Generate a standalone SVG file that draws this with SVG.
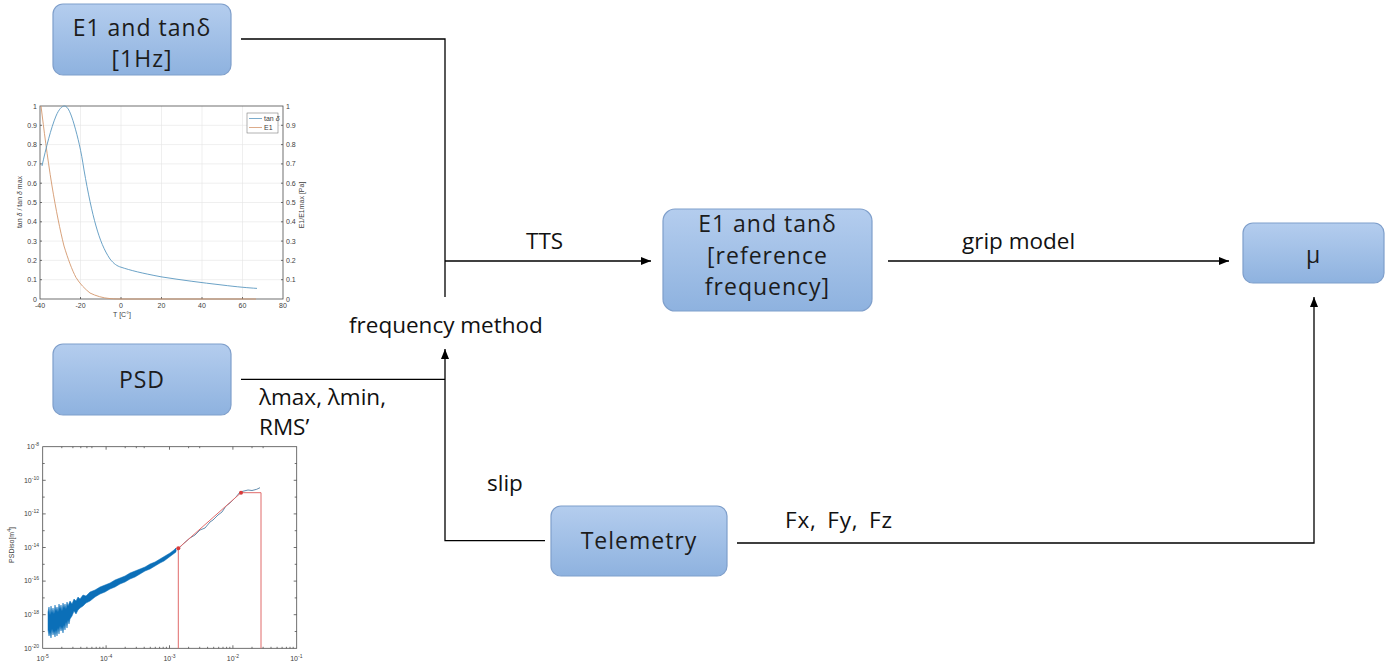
<svg xmlns="http://www.w3.org/2000/svg" width="1392" height="668" viewBox="0 0 1392 668">
  <style>
    .node rect { fill: url(#nodeFill); stroke: #7f9fcb; stroke-width: 1.2; }
    .node text { font-family: "Open Sans", "Noto Sans", sans-serif; font-size: 23px; letter-spacing: 1px; fill: #1c1c1c; text-anchor: middle; }
    .wire { fill: none; stroke: #000; stroke-width: 1.3; }
    .label { font-family: "Open Sans", "Noto Sans", sans-serif; font-size: 22.5px; fill: #111; }
    .tick { font-family: "Liberation Sans", Arial, sans-serif; font-size: 7px; fill: #404040; }
    .grid { stroke: #e4e4e4; stroke-width: 0.6; fill: none; }
    .axis { stroke: #4d4d4d; stroke-width: 0.8; fill: none; }
  </style>
  <defs>
    <linearGradient id="nodeFill" x1="0" y1="0" x2="0" y2="1">
      <stop offset="0" stop-color="#b4cdee"/>
      <stop offset="1" stop-color="#8eb2df"/>
    </linearGradient>
    <marker id="arrow" viewBox="0 0 10 8" refX="10" refY="4" markerWidth="10" markerHeight="8" markerUnits="userSpaceOnUse" orient="auto">
      <path d="M0,0 L10,4 L0,8 z" fill="#000"/>
    </marker>
  </defs>
  <rect width="1392" height="668" fill="#fff"/>

  <!-- tan delta / E1 vs temperature chart -->
  <g id="plot-tan-delta">
    <path class="grid" d="M80.5,106V299M121,106V299M161.5,106V299M202,106V299M242.5,106V299M40,279.7H283M40,260.4H283M40,241.1H283M40,221.8H283M40,202.5H283M40,183.2H283M40,163.9H283M40,144.6H283M40,125.3H283"/>
    <rect class="axis" x="40" y="106" width="243" height="193"/>
    <path class="axis" d="M40,279.7h2M40,260.4h2M40,241.1h2M40,221.8h2M40,202.5h2M40,183.2h2M40,163.9h2M40,144.6h2M40,125.3h2M283,279.7h-2M283,260.4h-2M283,241.1h-2M283,221.8h-2M283,202.5h-2M283,183.2h-2M283,163.9h-2M283,144.6h-2M283,125.3h-2M80.5,299v-2M121,299v-2M161.5,299v-2M202,299v-2M242.5,299v-2"/>
    <!-- E1 -->
    <path fill="none" stroke="#d4976d" stroke-width="0.9" d="M41,106 C44,130 47,155 52,186 C56,210 60,230 64,246 C68,259 72,270 76,277.5 C80,284 85,289 90,293 C96,296 103,298 110,298.6 C115,299 118,299 121,299 L256,299"/>
    <!-- tan delta -->
    <path fill="none" stroke="#5a97bf" stroke-width="0.9" d="M42,166 C46,148 51,128 56,116 C59,109 62,106 64.5,106 C68,106 71,114 74,124 C78,138 81,150 84,170 C88,193 92,212 96,226 C100,240 104,250 110,259 C114,264 117,266 121,267.2 C131,270.5 141,273 161,276.8 C181,280 201,282.6 222,285 C238,287 248,287.8 257,288.4"/>
    <!-- legend -->
    <rect x="247" y="113" width="31" height="20" fill="#fff" stroke="#666" stroke-width="0.5"/>
    <line x1="249" y1="118.5" x2="262" y2="118.5" stroke="#5a97bf" stroke-width="0.8"/>
    <line x1="249" y1="127.5" x2="262" y2="127.5" stroke="#d4976d" stroke-width="0.8"/>
    <text class="tick" x="264" y="120.5" font-size="5.5">tan <tspan font-style="italic">δ</tspan></text>
    <text class="tick" x="264" y="129.5" font-size="5.5">E1</text>
    <!-- left tick labels -->
    <g class="tick" text-anchor="end">
      <text x="37" y="301.5">0</text><text x="37" y="282.2">0.1</text><text x="37" y="262.9">0.2</text><text x="37" y="243.6">0.3</text><text x="37" y="224.3">0.4</text><text x="37" y="205">0.5</text><text x="37" y="185.7">0.6</text><text x="37" y="166.4">0.7</text><text x="37" y="147.1">0.8</text><text x="37" y="127.8">0.9</text><text x="37" y="108.5">1</text>
    </g>
    <g class="tick">
      <text x="286" y="301.5">0</text><text x="286" y="282.2">0.1</text><text x="286" y="262.9">0.2</text><text x="286" y="243.6">0.3</text><text x="286" y="224.3">0.4</text><text x="286" y="205">0.5</text><text x="286" y="185.7">0.6</text><text x="286" y="166.4">0.7</text><text x="286" y="147.1">0.8</text><text x="286" y="127.8">0.9</text><text x="286" y="108.5">1</text>
    </g>
    <g class="tick" text-anchor="middle">
      <text x="40" y="308">-40</text><text x="80.5" y="308">-20</text><text x="121" y="308">0</text><text x="161.5" y="308">20</text><text x="202" y="308">40</text><text x="242.5" y="308">60</text><text x="283" y="308">80</text>
      <text x="122" y="317">T [C°]</text>
      <text transform="translate(22,202) rotate(-90)">tan <tspan font-style="italic">δ</tspan> / tan <tspan font-style="italic">δ</tspan> max</text>
      <text transform="translate(304,205) rotate(-90)">E1/E1max [Pa]</text>
    </g>
  </g>

  <!-- road surface PSD chart (log-log) -->
  <g id="plot-psd">
    <rect class="axis" x="42.7" y="446.7" width="254" height="201.6"/>
    <path class="axis" stroke-width="0.6" d="M106.1,648.3v-3M169.5,648.3v-3M232.9,648.3v-3M106.1,446.7v3M169.5,446.7v3M232.9,446.7v3M61.8,648.3v-1.5M72.9,648.3v-1.5M80.8,648.3v-1.5M86.9,648.3v-1.5M91.9,648.3v-1.5M96.2,648.3v-1.5M99.8,648.3v-1.5M103.0,648.3v-1.5M125.2,648.3v-1.5M136.3,648.3v-1.5M144.2,648.3v-1.5M150.3,648.3v-1.5M155.3,648.3v-1.5M159.6,648.3v-1.5M163.2,648.3v-1.5M166.4,648.3v-1.5M188.6,648.3v-1.5M199.7,648.3v-1.5M207.6,648.3v-1.5M213.7,648.3v-1.5M218.7,648.3v-1.5M223.0,648.3v-1.5M226.6,648.3v-1.5M229.8,648.3v-1.5M252.0,648.3v-1.5M263.1,648.3v-1.5M271.0,648.3v-1.5M277.1,648.3v-1.5M282.1,648.3v-1.5M286.4,648.3v-1.5M290.0,648.3v-1.5M293.2,648.3v-1.5M61.8,446.7v1.5M72.9,446.7v1.5M80.8,446.7v1.5M86.9,446.7v1.5M91.9,446.7v1.5M125.2,446.7v1.5M136.3,446.7v1.5M144.2,446.7v1.5M188.6,446.7v1.5M199.7,446.7v1.5M252.0,446.7v1.5M263.1,446.7v1.5M42.7,480.3h3M42.7,513.9h3M42.7,547.5h3M42.7,581.1h3M42.7,614.7h3M42.7,463.5h2M42.7,497.1h2M42.7,530.7h2M42.7,564.3h2M42.7,597.9h2M42.7,631.5h2M296.7,480.3h-3M296.7,513.9h-3M296.7,547.5h-3M296.7,581.1h-3M296.7,614.7h-3M296.7,463.5h-2M296.7,497.1h-2M296.7,530.7h-2M296.7,564.3h-2M296.7,597.9h-2M296.7,631.5h-2"/>
    <!-- measured spectrum -->
    <polygon fill="#0b6fb8" stroke="#0b6fb8" stroke-width="0.5" stroke-linejoin="round" points="48,612 49,607 50,615 51,606 52,613 53,608 54,614 55,605 56,611 57,607 58,612 59,604 60,609 61,605 62,611 63,603 64,608 65,604 66,609 67,602 68,606 70,601 72,604 74,599 76,601 78,597 80,599 83,595 86,596 90,592 95,590 100,587 105,585 110,583 115,580 120,578 125,576 130,573 135,571 140,569 145,567 150,564 155,562 160,559 165,556 170,553 174,550 176,548 176,552 172,555 168,558 164,561 160,563 155,566 150,569 145,571 140,574 135,577 130,579 125,582 120,584 115,587 110,589 105,592 100,594 95,597 90,601 86,603 83,606 80,608 78,610 76,614 74,611 72,616 70,619 69,624 68,620 67,628 66,622 65,630 64,625 63,633 62,627 61,631 60,626 59,634 58,628 57,636 56,630 55,637 54,631 53,635 52,629 51,638 50,632 49,636 48,630"/>
    <polyline fill="none" stroke="#3a6f98" stroke-width="0.8" points="176.7,550.7 183,544 190,538 195,535 200,530 205,528 210,522 213,520 218,515 222,512 226,506 230,503 233,500 236,497 240,492 244,491 248,490 252,490.5 256.7,489.3 260,487.7"/>
    <!-- piecewise fit -->
    <path fill="none" stroke="#e06a6a" stroke-width="1" d="M178.3,648.3V548.3L241,492.7H261V648.3"/>
    <circle cx="178.3" cy="548.3" r="2" fill="#d83b3b"/>
    <circle cx="241" cy="492.7" r="2" fill="#d83b3b"/>
    <g class="tick" text-anchor="end">
      <text x="39" y="449">10<tspan dy="-3" font-size="5">-8</tspan></text>
      <text x="39" y="482.6">10<tspan dy="-3" font-size="5">-10</tspan></text>
      <text x="39" y="516.2">10<tspan dy="-3" font-size="5">-12</tspan></text>
      <text x="39" y="549.8">10<tspan dy="-3" font-size="5">-14</tspan></text>
      <text x="39" y="583.4">10<tspan dy="-3" font-size="5">-16</tspan></text>
      <text x="39" y="617">10<tspan dy="-3" font-size="5">-18</tspan></text>
      <text x="39" y="650.6">10<tspan dy="-3" font-size="5">-20</tspan></text>
    </g>
    <g class="tick" text-anchor="middle">
      <text x="42.7" y="661">10<tspan dy="-3" font-size="5">-5</tspan></text>
      <text x="106.1" y="661">10<tspan dy="-3" font-size="5">-4</tspan></text>
      <text x="169.5" y="661">10<tspan dy="-3" font-size="5">-3</tspan></text>
      <text x="232.9" y="661">10<tspan dy="-3" font-size="5">-2</tspan></text>
      <text x="296.3" y="661">10<tspan dy="-3" font-size="5">-1</tspan></text>
      <text transform="translate(14,545) rotate(-90)">PSDiso[m<tspan dy="-3" font-size="5">4</tspan><tspan dy="3">]</tspan></text>
    </g>
  </g>

  <!-- process blocks -->
  <g id="node-e1-1hz" class="node">
    <rect x="53" y="4" width="178" height="71" rx="10"/>
    <text x="142" y="35.5">E1 and tanδ</text>
    <text x="142" y="67">[1Hz]</text>
  </g>
  <g id="node-e1-ref" class="node">
    <rect x="663" y="209" width="209" height="102" rx="12"/>
    <text x="767.5" y="232">E1 and tanδ</text>
    <text x="767.5" y="263.5">[reference</text>
    <text x="767.5" y="295">frequency]</text>
  </g>
  <g id="node-mu" class="node">
    <rect x="1243" y="223" width="141" height="60" rx="10"/>
    <text x="1313.5" y="263">μ</text>
  </g>
  <g id="node-psd" class="node">
    <rect x="53" y="344" width="178" height="71" rx="10"/>
    <text x="142" y="388">PSD</text>
  </g>
  <g id="node-telemetry" class="node">
    <rect x="551" y="506" width="176" height="70" rx="10"/>
    <text x="639" y="549">Telemetry</text>
  </g>

  <!-- connectors -->
  <g id="connectors">
    <path class="wire" d="M241,39H445V297"/>
    <path class="wire" d="M445,261H651" marker-end="url(#arrow)"/>
    <path class="wire" d="M241,379.3H445"/>
    <path class="wire" d="M545,540.7H445V349" marker-end="url(#arrow)"/>
    <path class="wire" d="M888,261H1229" marker-end="url(#arrow)"/>
    <path class="wire" d="M737,543H1314V297" marker-end="url(#arrow)"/>
  </g>

  <!-- connector labels -->
  <g id="labels" class="label">
    <text x="526" y="249">TTS</text>
    <text x="962" y="249">grip model</text>
    <text x="349" y="333">frequency method</text>
    <text x="259" y="405">λmax, λmin,</text>
    <text x="259" y="435">RMS’</text>
    <text x="487" y="491">slip</text>
    <text x="785" y="528" word-spacing="4" letter-spacing="0.8">Fx, Fy, Fz</text>
  </g>
</svg>
